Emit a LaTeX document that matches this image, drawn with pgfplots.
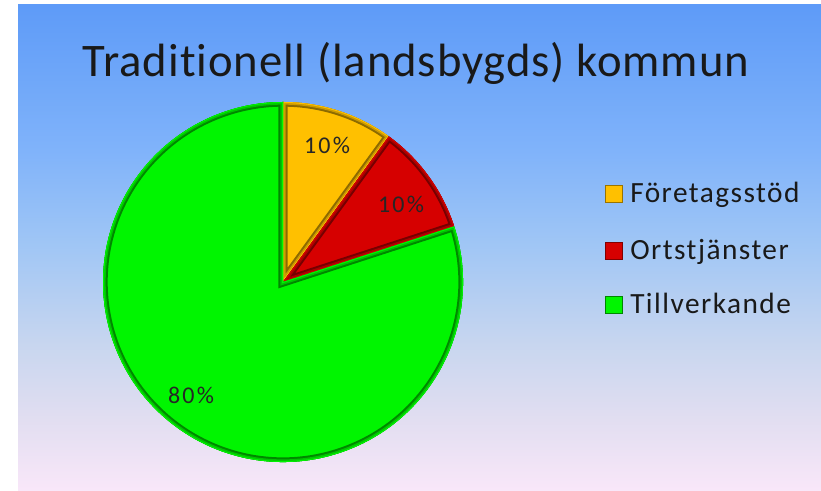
\documentclass[border=0pt]{standalone}
\usepackage{pgfplots}
\pgfplotsset{compat=1.18}
\usepackage{fontspec}
\setmainfont{Carlito}[Ligatures=NoCommon]
\newfontfamily\titlefont{Carlito}[Ligatures=NoCommon, LetterSpace=2]
\newfontfamily\legfont{Carlito}[Ligatures=NoCommon, LetterSpace=5]
\newfontfamily\labfont{Carlito}[Ligatures=NoCommon, LetterSpace=9]
\definecolor{bgtop}{HTML}{5E9BF8}
\definecolor{bgc4}{HTML}{80B3FA}
\definecolor{bgc3}{HTML}{A0C6F5}
\definecolor{bgc2}{HTML}{C8D6EF}
\definecolor{bgc1}{HTML}{E2DEF1}
\definecolor{bgbot}{HTML}{F9E7F9}
\definecolor{cyel}{HTML}{FFC000}
\definecolor{cred}{HTML}{D60000}
\definecolor{cgrn}{HTML}{00F500}
\pgfdeclareverticalshading{bgshade}{100bp}{color(0bp)=(bgbot); color(25bp)=(bgbot); color(32.3bp)=(bgc1); color(40bp)=(bgc2); color(50.3bp)=(bgc3); color(60bp)=(bgc4); color(75bp)=(bgtop); color(100bp)=(bgtop)}
% values (percent)
\def\vA{10}
\def\vB{10}
\def\vC{80}
\pgfmathsetmacro\aA{90}
\pgfmathsetmacro\aB{90-3.6*\vA}
\pgfmathsetmacro\aC{\aB-3.6*\vB}
\pgfmathsetmacro\aD{\aC-3.6*\vC}
\newcommand\wedgepath[2]{(axis cs:283,209) -- ++(#1:135pt) arc[start angle=#1, end angle=#2, radius=135pt] -- cycle}
\newcommand\bevelwedge[3]{%
  \begin{scope}
    \clip \wedgepath{#1}{#2};
    \fill[#3] \wedgepath{#1}{#2};
    \draw[line width=7pt, #3!55!black] \wedgepath{#1}{#2};
    \draw[line width=4pt, #3!80!black] \wedgepath{#1}{#2};
    \draw[line width=1.5pt, #3] \wedgepath{#1}{#2};
  \end{scope}}
\begin{document}
\begin{tikzpicture}
\begin{axis}[
  scale only axis, width=615.75pt, height=368.25pt,
  xmin=0, xmax=821, ymin=0, ymax=491,
  hide axis, clip=false]
\pgfplotsextra{
  \fill[white] (axis cs:0,0) rectangle (axis cs:821,491);
  \shade[shading=bgshade] (axis cs:18,0) rectangle (axis cs:821,486);
  \bevelwedge{\aA}{\aB}{cyel}
  \bevelwedge{\aB}{\aC}{cred}
  \bevelwedge{\aC}{\aD}{cgrn}
  \node[anchor=base, font=\titlefont\fontsize{35}{40}\selectfont, text=black!90] at (axis cs:416,414) {Traditionell (landsbygds) kommun};
  \node[font=\labfont\fontsize{18}{22}\selectfont, text=black!85] at (axis cs:327,346) {10\%};
  \node[font=\labfont\fontsize{18}{22}\selectfont, text=black!85] at (axis cs:401,287) {10\%};
  \node[font=\labfont\fontsize{18}{22}\selectfont, text=black!85] at (axis cs:191,96) {80\%};
  \fill[cyel] (axis cs:605,288) rectangle (axis cs:623,306);
  \draw[cyel!60!black, line width=1pt] (axis cs:605.5,288.5) rectangle (axis cs:622.5,305.5);
  \fill[cred] (axis cs:605,231) rectangle (axis cs:623,249);
  \draw[cred!60!black, line width=1pt] (axis cs:605.5,231.5) rectangle (axis cs:622.5,248.5);
  \fill[cgrn] (axis cs:605,177) rectangle (axis cs:623,195);
  \draw[cgrn!55!black, line width=1pt] (axis cs:605.5,177.5) rectangle (axis cs:622.5,194.5);
  \node[anchor=base west, inner sep=0pt, font=\legfont\fontsize{22}{26}\selectfont, text=black!90] at (axis cs:630,288) {Företagsstöd};
  \node[anchor=base west, inner sep=0pt, font=\legfont\fontsize{22}{26}\selectfont, text=black!90] at (axis cs:630,231) {Ortstjänster};
  \node[anchor=base west, inner sep=0pt, font=\legfont\fontsize{22}{26}\selectfont, text=black!90] at (axis cs:630,177) {Tillverkande};
}
\end{axis}
\end{tikzpicture}
\end{document}
